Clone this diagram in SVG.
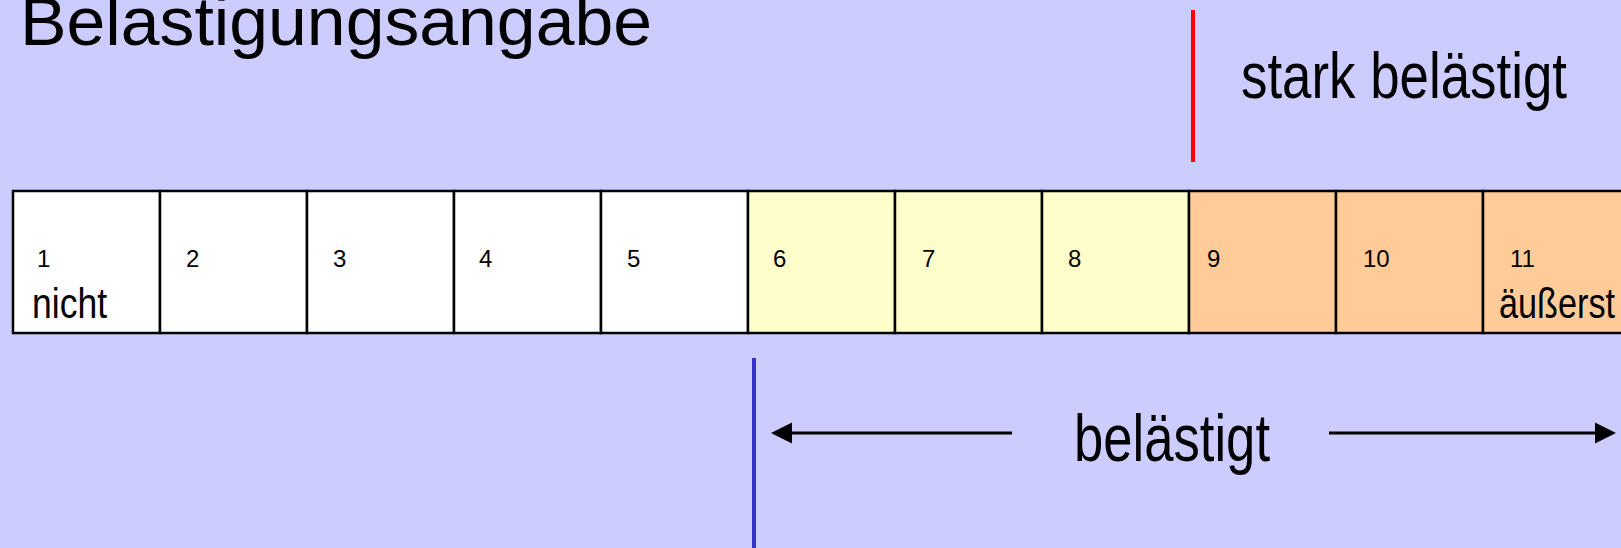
<svg xmlns="http://www.w3.org/2000/svg" width="1621" height="548" viewBox="0 0 1621 548">
  <style>
    .cell { stroke: #000000; stroke-width: 2.5; }
    .white { fill: #FFFFFF; }
    .yellow { fill: #FFFFCC; }
    .orange { fill: #FFCC99; }
    .num { font-family: "Liberation Sans", Arial, sans-serif; font-size: 24px; fill: #000000; }
    .narrow { font-family: "Liberation Sans Narrow", "Liberation Sans", Arial, sans-serif; fill: #000000; }
    .arrow { stroke: #000000; stroke-width: 3; fill: none; }
  </style>
  <defs>
    <marker id="head" markerUnits="userSpaceOnUse" markerWidth="22" markerHeight="22" refX="0" refY="10.5" orient="auto" viewBox="0 0 22 21">
      <path d="M0,0 L21,10.5 L0,21 Z" fill="#000000"/>
    </marker>
  </defs>
  <rect x="0" y="0" width="1621" height="548" fill="#CCCCFF"/>

  <g id="title">
    <text class="narrow" x="20" y="45" font-size="68" textLength="632" lengthAdjust="spacingAndGlyphs">Belastigungsangabe</text>
  </g>

  <g id="stark-marker">
    <line x1="1193" y1="10" x2="1193" y2="162" stroke="#FF0000" stroke-width="4"/>
    <text class="narrow" x="1241" y="98" font-size="64" textLength="326" lengthAdjust="spacingAndGlyphs">stark belästigt</text>
  </g>

  <g id="scale">
    <g id="cell1"><rect class="cell white" x="13" y="191" width="147" height="142"/><text class="num" x="37" y="267">1</text><text class="narrow" x="32" y="318" font-size="42" textLength="75" lengthAdjust="spacingAndGlyphs">nicht</text></g>
    <g id="cell2"><rect class="cell white" x="160" y="191" width="147" height="142"/><text class="num" x="186" y="267">2</text></g>
    <g id="cell3"><rect class="cell white" x="307" y="191" width="147" height="142"/><text class="num" x="333" y="267">3</text></g>
    <g id="cell4"><rect class="cell white" x="454" y="191" width="147" height="142"/><text class="num" x="479" y="267">4</text></g>
    <g id="cell5"><rect class="cell white" x="601" y="191" width="147" height="142"/><text class="num" x="627" y="267">5</text></g>
    <g id="cell6"><rect class="cell yellow" x="748" y="191" width="147" height="142"/><text class="num" x="773" y="267">6</text></g>
    <g id="cell7"><rect class="cell yellow" x="895" y="191" width="147" height="142"/><text class="num" x="922" y="267">7</text></g>
    <g id="cell8"><rect class="cell yellow" x="1042" y="191" width="147" height="142"/><text class="num" x="1068" y="267">8</text></g>
    <g id="cell9"><rect class="cell orange" x="1189" y="191" width="147" height="142"/><text class="num" x="1207" y="267">9</text></g>
    <g id="cell10"><rect class="cell orange" x="1336" y="191" width="147" height="142"/><text class="num" x="1363" y="267">10</text></g>
    <g id="cell11"><rect class="cell orange" x="1483" y="191" width="147" height="142"/><text class="num" x="1510" y="267">11</text><text class="narrow" x="1499" y="318" font-size="42" textLength="116" lengthAdjust="spacingAndGlyphs">äußerst</text></g>
  </g>

  <g id="belaestigt-marker">
    <line x1="754" y1="358" x2="754" y2="548" stroke="#3333CC" stroke-width="4"/>
    <text class="narrow" x="1074" y="461" font-size="66" textLength="196" lengthAdjust="spacingAndGlyphs">belästigt</text>
  </g>

  <g id="connectors">
    <line class="arrow" x1="1012" y1="433" x2="792" y2="433" marker-end="url(#head)"/>
    <line class="arrow" x1="1329" y1="433" x2="1595" y2="433" marker-end="url(#head)"/>
  </g>
</svg>
